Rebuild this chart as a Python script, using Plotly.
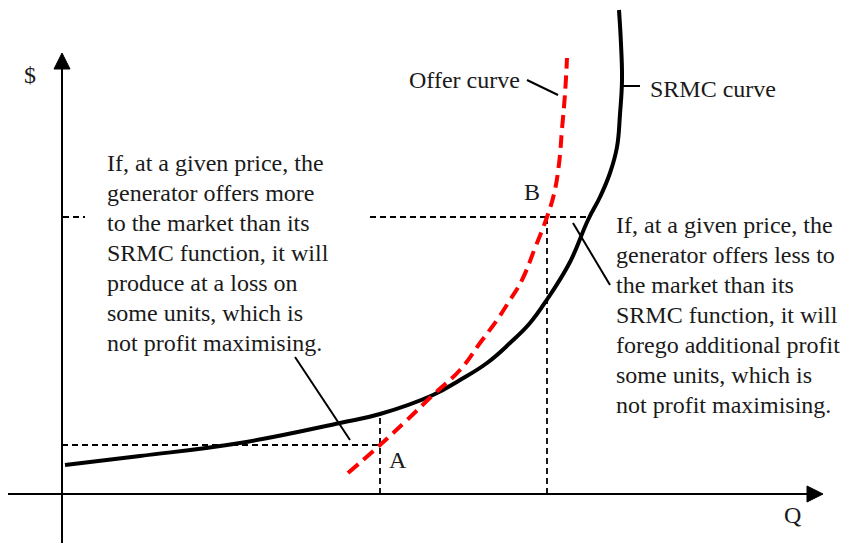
import plotly.graph_objects as go

# ---------------- data (Q, $ units; origin at axis crossing) ----------------
srmc_q = [3, 78, 178, 278, 318, 371, 398, 425, 448, 468, 486, 508, 526, 538, 548, 555, 558, 560, 559, 557]
srmc_p = [29, 38, 51, 71, 80, 99, 114, 131, 151, 171, 196, 232, 274, 297, 321, 347, 380, 414, 450, 484]

offer_q = [286, 318, 345, 371, 398, 418, 435, 448, 460, 473, 485, 492, 497, 500, 503, 505]
offer_p = [21, 49, 74, 99, 124, 151, 174, 194, 214, 246, 277, 300, 330, 365, 400, 436]

point_a = (318, 49)     # offer point A
srmc_at_a = 80          # SRMC value at A's quantity
point_b = (485, 277)    # offer point B

left_text = ["If, at a given price, the",
             "generator offers more",
             "to the market than its",
             "SRMC function, it will",
             "produce at a loss on",
             "some units, which is",
             "not profit maximising."]
right_text = ["If, at a given price, the",
              "generator offers less to",
              "the market than its",
              "SRMC function, it will",
              "forego additional profit",
              "some units, which is",
              "not profit maximising."]

# ---------------- layout constants ----------------
# page body has an 8px margin: figure is 858x535 and starts at page (8, 8)
X_MIN, X_MAX = -54, 804
Y_MIN, Y_MAX = -49, 486
FONT = "Liberation Serif"
FS = 24
TXT = "#1a1a1a"

fig = go.Figure()

def seg(x0, y0, x1, y1, width=2, dash="solid", color="black"):
    fig.add_trace(go.Scatter(x=[x0, x1], y=[y0, y1], mode="lines",
                             line=dict(color=color, width=width, dash=dash),
                             hoverinfo="skip", showlegend=False))

def tri(xs, ys):
    fig.add_trace(go.Scatter(x=xs + [xs[0]], y=ys + [ys[0]], mode="lines",
                             fill="toself", fillcolor="black",
                             line=dict(color="black", width=1),
                             hoverinfo="skip", showlegend=False))

# axes
Y_TIP, X_TIP, AH_LEN, AH_HALF = 441, 761, 16, 8
seg(0, Y_MIN, 0, Y_TIP - AH_LEN + 2, width=2)
tri([0, -AH_HALF, AH_HALF], [Y_TIP, Y_TIP - AH_LEN, Y_TIP - AH_LEN])
seg(X_MIN, 0, X_TIP - AH_LEN + 2, 0, width=2)
tri([X_TIP, X_TIP - AH_LEN, X_TIP - AH_LEN], [0, AH_HALF, -AH_HALF])

# dashed guide lines
DASH = "6px,4px"
GW = 1.8
seg(0, point_a[1], point_a[0], point_a[1], width=GW, dash=DASH)
seg(point_a[0], 0, point_a[0], srmc_at_a, width=GW, dash=DASH)
seg(308, point_b[1], 528, point_b[1], width=GW, dash=DASH)
seg(point_b[0], 0, point_b[0], point_b[1], width=GW, dash=DASH)
seg(1, point_b[1], 23, point_b[1], width=GW, dash=DASH)

# curves
fig.add_trace(go.Scatter(x=srmc_q, y=srmc_p, mode="lines",
                         line=dict(color="black", width=4, shape="spline", smoothing=1.2),
                         hoverinfo="skip", showlegend=False, name="SRMC curve"))
fig.add_trace(go.Scatter(x=offer_q, y=offer_p, mode="lines",
                         line=dict(color="#ff0000", width=4, shape="spline", smoothing=1.2,
                                   dash="13px,7px"),
                         hoverinfo="skip", showlegend=False, name="Offer curve"))

# pointer lines
seg(233, 137, 288, 54, width=2)
seg(511, 271, 548, 209, width=2)
seg(465, 414, 496, 399, width=2)
seg(561, 408, 578, 408, width=2)

# text
ann = []
def txt(x, y, s, xanchor="left"):
    ann.append(dict(x=x, y=y, text=s, showarrow=False, xanchor=xanchor, yanchor="middle",
                    font=dict(family=FONT, size=FS, color=TXT)))

txt(-32, 419, "$", "center")
txt(730, -21, "Q", "center")
txt(336, 34, "A", "center")
txt(470, 302, "B", "center")
txt(460, 414, "Offer curve", "right")
txt(586, 405, "SRMC curve")
for i, s in enumerate(left_text):
    txt(43, 331 - 30 * i, s)
for i, s in enumerate(right_text):
    txt(552, 269 - 30 * i, s)

fig.update_layout(
    width=858, height=535,
    margin=dict(l=0, r=0, t=0, b=0),
    paper_bgcolor="white", plot_bgcolor="white",
    xaxis=dict(range=[X_MIN, X_MAX], visible=False, fixedrange=True),
    yaxis=dict(range=[Y_MIN, Y_MAX], visible=False, fixedrange=True),
    annotations=ann,
    showlegend=False,
)

fig.write_html("out.html")
